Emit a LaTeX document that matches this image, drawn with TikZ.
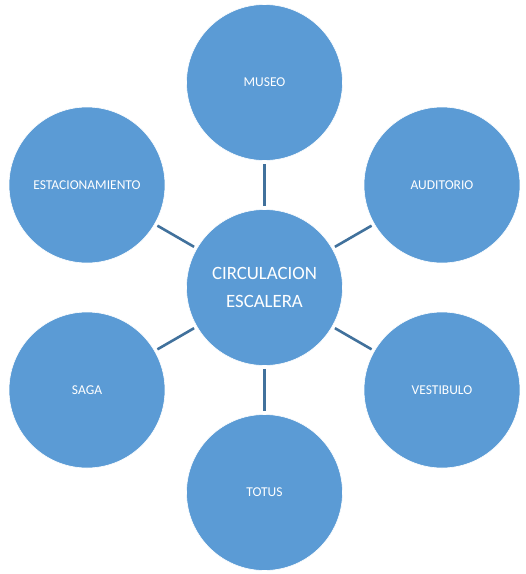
\documentclass[tikz,border=0pt]{standalone}
\usepackage{fontspec}
\setmainfont{Carlito}
\begin{document}
\begin{tikzpicture}[x=1pt,y=-1pt,
  bubble/.style={circle,fill=bubblefill,draw=white,line width=0.6pt,minimum size=156pt,inner sep=0pt,text=white,font=\fontsize{13.5}{15}\selectfont,align=center},
  hub/.style={bubble,font=\fontsize{18.8}{28}\selectfont},
  link/.style={draw=linkcol,line width=2.6pt,shorten <=3pt,shorten >=3pt}]
\definecolor{bubblefill}{RGB}{91,155,213}
\definecolor{linkcol}{RGB}{65,113,156}
\useasboundingbox (0,0) rectangle (526,574);
\node[hub] (c) at (264.5,287.5) {CIRCULACION\\ESCALERA};
\node[bubble] (museo) at (264.5,82.5) {MUSEO};
\node[bubble] (aud) at (442,185) {AUDITORIO};
\node[bubble] (vest) at (442,390) {VESTIBULO};
\node[bubble] (totus) at (264.5,492.5) {TOTUS};
\node[bubble] (saga) at (87,390) {SAGA};
\node[bubble] (est) at (87,185) {ESTACIONAMIENTO};
\foreach \n in {museo,aud,vest,totus,saga,est}
  \draw[link] (c) -- (\n);
\end{tikzpicture}
\end{document}
